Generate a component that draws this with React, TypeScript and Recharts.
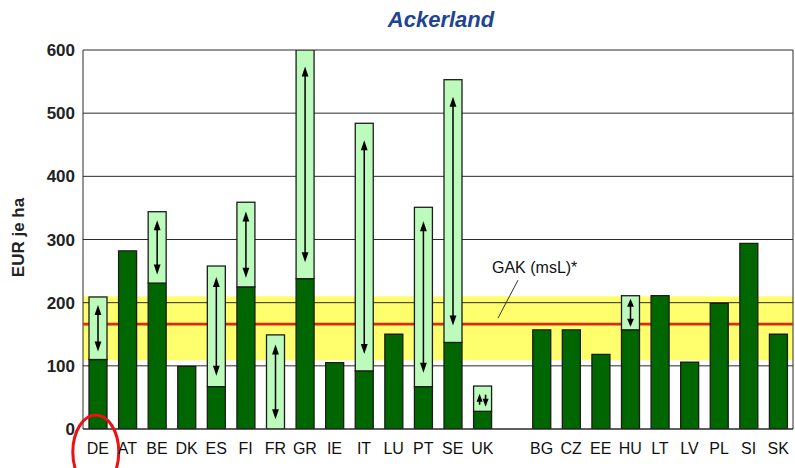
import React from 'react';
import {
  ComposedChart,
  Bar,
  XAxis,
  YAxis,
  CartesianGrid,
  ReferenceArea,
  ReferenceLine,
} from 'recharts';

// Prämien Ackerland, EUR je ha (min / max je Land)
const countries = ['DE', 'AT', 'BE', 'DK', 'ES', 'FI', 'FR', 'GR', 'IE', 'IT', 'LU', 'PT', 'SE', 'UK', '', 'BG', 'CZ', 'EE', 'HU', 'LT', 'LV', 'PL', 'SI', 'SK'];
const minValues = [110, 282, 231, 99, 67, 225, 0, 238, 105, 92, 150, 67, 137, 28, null, 157, 157, 118, 157, 211, 106, 199, 294, 150];
const maxValues = [209, 282, 344, 99, 258, 359, 149, 600, 105, 484, 150, 351, 553, 68, null, 157, 157, 118, 211, 211, 106, 199, 294, 150];

const yTicks = [0, 100, 200, 300, 400, 500, 600];
const gakBand = [109, 210];
const gakValue = 166;

const DARK = '#006600';
const LIGHT = '#bcfbbc';
const EDGE = '#1c1c1c';

const data = countries.map((country, i) => {
  const lo = minValues[i];
  const hi = maxValues[i];
  return {
    country,
    low: lo,
    range: lo == null || hi == null ? null : hi - lo,
  };
});

const RangeBar = (props: any) => {
  const { x, y, width, height } = props;
  if (!height || height <= 0) return null;
  const cx = x + width / 2;

  if (height < 30) {
    // kleine Spanne: Pfeile nebeneinander
    const mid = y + height * 0.58;
    return (
      <g>
        <rect x={x} y={y} width={width} height={height} fill={LIGHT} stroke={EDGE} strokeWidth={1.3} />
        <polygon points={`${cx - 3},${mid - 7} ${cx - 6},${mid + 1} ${cx},${mid + 1}`} fill="#000" />
        <line x1={cx - 3} y1={mid} x2={cx - 3} y2={mid + 4} stroke="#000" strokeWidth={1.6} />
        <polygon points={`${cx + 3},${mid + 6} ${cx},${mid - 2} ${cx + 6},${mid - 2}`} fill="#000" />
        <line x1={cx + 3} y1={mid - 6} x2={cx + 3} y2={mid - 1} stroke="#000" strokeWidth={1.6} />
      </g>
    );
  }

  const inset = height < 45 ? 3 : Math.min(17, 5 + height * 0.05);
  const head = height < 45 ? 8 : 10;
  const top = y + inset;
  const bottom = y + height - inset;
  return (
    <g>
      <rect x={x} y={y} width={width} height={height} fill={LIGHT} stroke={EDGE} strokeWidth={1.3} />
      <line x1={cx} y1={top + head - 1} x2={cx} y2={bottom - head + 1} stroke="#000" strokeWidth={1.5} />
      <polygon points={`${cx},${top} ${cx - 3.4},${top + head} ${cx + 3.4},${top + head}`} fill="#000" />
      <polygon points={`${cx},${bottom} ${cx - 3.4},${bottom - head} ${cx + 3.4},${bottom - head}`} fill="#000" />
    </g>
  );
};

const CountryTick = (props: any) => {
  const { x, y, payload } = props;
  return (
    <g>
      <text x={x} y={y + 23} textAnchor="middle" fontSize={16} fill="#111" fontFamily="Liberation Sans, Arial, sans-serif">
        {payload.value}
      </text>
      {payload.value === 'DE' && (
        <ellipse cx={x - 2} cy={y + 21} rx={23} ry={37} fill="none" stroke="#ee1111" strokeWidth={3} />
      )}
    </g>
  );
};

const GakLabel = (props: any) => {
  const vb = props.viewBox || {};
  const x0 = vb.x ?? 0;
  const yl = vb.y ?? 0;
  return (
    <g>
      <line x1={x0 + 415} y1={yl - 6} x2={x0 + 435} y2={yl - 44} stroke="#333" strokeWidth={1} />
      <text x={x0 + 409} y={yl - 51} fontSize={16} fill="#111" fontFamily="Liberation Sans, Arial, sans-serif">
        GAK (msL)*
      </text>
    </g>
  );
};

const YTitle = (props: any) => {
  const vb = props.viewBox || {};
  const cy = (vb.y ?? 0) + (vb.height ?? 0) / 2 - 2;
  return (
    <text
      x={24}
      y={cy}
      transform={`rotate(-90, 24, ${cy})`}
      textAnchor="middle"
      fontSize={17}
      fontWeight="bold"
      fill="#222"
      fontFamily="Liberation Sans, Arial, sans-serif"
    >
      EUR je ha
    </text>
  );
};

export default function App() {
  return (
    <div style={{ position: 'relative', width: 795, height: 468, background: '#fff', fontFamily: 'Liberation Sans, Arial, sans-serif' }}>
      <style>{`body { margin: 0; }`}</style>
      <div
        style={{
          position: 'absolute',
          top: 9,
          left: 341,
          width: 200,
          textAlign: 'center',
          fontSize: 22,
          lineHeight: '22px',
          fontWeight: 'bold',
          fontStyle: 'italic',
          color: '#1f4592',
        }}
      >
        Ackerland
      </div>
      <ComposedChart
        width={795}
        height={468}
        data={data}
        margin={{ top: 50, right: 2, bottom: 0, left: 0 }}
      >
        <ReferenceArea y1={gakBand[0]} y2={gakBand[1]} fill="#ffff6e" fillOpacity={1} stroke="none" zIndex={-120} />
        <CartesianGrid
          stroke="#2a2a2a"
          strokeWidth={1}
          vertical
          verticalCoordinatesGenerator={({ offset }: any) => [offset.left, offset.left + offset.width]}
          zIndex={-90}
        />
        <ReferenceLine y={gakValue} stroke="#dd2a14" strokeWidth={2.6} zIndex={-80} label={(p: any) => <GakLabel {...p} />} />
        <XAxis
          dataKey="country"
          interval={0}
          height={39}
          tickLine={false}
          tickSize={0}
          axisLine={{ stroke: '#2a2a2a' }}
          tick={<CountryTick />}
        />
        <YAxis
          width={83}
          domain={[0, 600]}
          ticks={yTicks}
          allowDataOverflow
          tickLine={false}
          tickSize={0}
          tickMargin={8}
          axisLine={false}
          tick={{ fontSize: 17, fontWeight: 'bold', fill: '#222' }}
          label={(p: any) => <YTitle {...p} />}
        />
        <Bar dataKey="low" stackId="a" barSize={18} fill={DARK} stroke={EDGE} strokeWidth={1.3} isAnimationActive={false} />
        <Bar dataKey="range" stackId="a" barSize={18} fill={LIGHT} shape={(p: any) => <RangeBar {...p} />} isAnimationActive={false} />
      </ComposedChart>
    </div>
  );
}
